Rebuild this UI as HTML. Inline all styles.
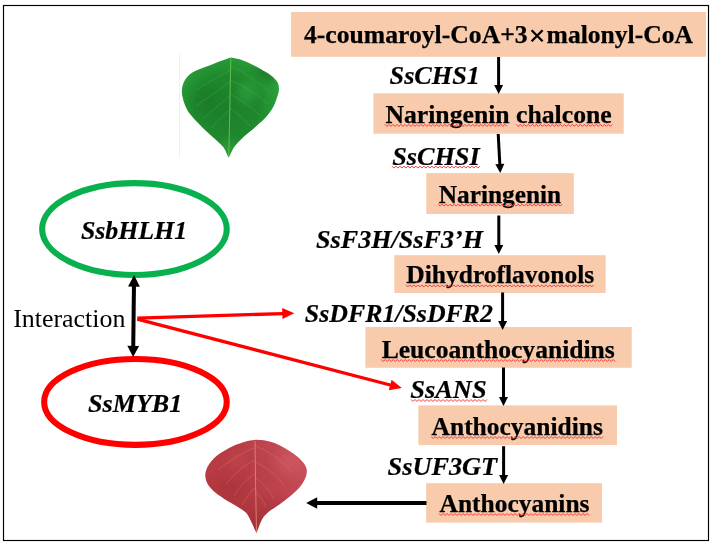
<!DOCTYPE html>
<html><head><meta charset="utf-8"><title>Anthocyanin pathway</title>
<style>
html,body{margin:0;padding:0;background:#fff;}
body{width:714px;height:545px;overflow:hidden;}
svg{display:block;will-change:transform;}
text{font-family:"Liberation Serif",serif;}
.b{font-weight:bold;font-size:24.8px;fill:#000;stroke:#000;stroke-width:0.25px;}
.i{font-weight:bold;font-style:italic;font-size:24.8px;fill:#000;stroke:#000;stroke-width:0.2px;}
</style></head><body>
<svg width="714" height="545" viewBox="0 0 714 545">
<defs>
<radialGradient id="gl" gradientUnits="userSpaceOnUse" cx="226" cy="108" r="58">
<stop offset="0" stop-color="#1d7f2b"/><stop offset="0.55" stop-color="#1f882e"/><stop offset="0.85" stop-color="#279a36"/><stop offset="1" stop-color="#2da53b"/>
</radialGradient>
<filter id="blur4" x="-50%" y="-50%" width="200%" height="200%"><feGaussianBlur stdDeviation="4"/></filter>
<filter id="blur6" x="-50%" y="-50%" width="200%" height="200%"><feGaussianBlur stdDeviation="6"/></filter>
<linearGradient id="rl" x1="0" y1="0.6" x2="1" y2="0.2">
<stop offset="0" stop-color="#b53a40"/><stop offset="0.5" stop-color="#b83e47"/><stop offset="1" stop-color="#c8505a"/>
</linearGradient>
<linearGradient id="rl2" x1="0" y1="0" x2="0" y2="1">
<stop offset="0.55" stop-color="#98262c" stop-opacity="0"/><stop offset="1" stop-color="#98262c" stop-opacity="0.6"/>
</linearGradient>
</defs>
<rect x="0" y="0" width="714" height="545" fill="#ffffff"/>
<rect x="3.5" y="5.5" width="705" height="535" fill="none" stroke="#000" stroke-width="1.15"/>

<rect x="291.1" y="12.0" width="414.9" height="44.8" fill="#f8cbad"/>
<rect x="373.4" y="93.3" width="250.3" height="40.4" fill="#f8cbad"/>
<rect x="426.3" y="173.1" width="147.5" height="40.9" fill="#f8cbad"/>
<rect x="394.3" y="255.2" width="211.3" height="37.8" fill="#f8cbad"/>
<rect x="365.4" y="327" width="266.3" height="40.8" fill="#f8cbad"/>
<rect x="418.4" y="405.4" width="198.6" height="39.7" fill="#f8cbad"/>
<rect x="426.1" y="483.2" width="175.9" height="39.4" fill="#f8cbad"/>
<line x1="498.60" y1="57.00" x2="498.60" y2="86.00" stroke="#000" stroke-width="3"/><polygon points="498.60,94.00 494.10,85.00 503.10,85.00" fill="#000"/>
<line x1="498.20" y1="134.00" x2="499.87" y2="165.11" stroke="#000" stroke-width="3"/><polygon points="500.30,173.10 495.32,164.35 504.31,163.87" fill="#000"/>
<line x1="498.80" y1="215.50" x2="498.80" y2="246.10" stroke="#000" stroke-width="3"/><polygon points="498.80,254.10 494.30,245.10 503.30,245.10" fill="#000"/>
<line x1="502.60" y1="292.50" x2="502.60" y2="322.00" stroke="#000" stroke-width="3"/><polygon points="502.60,330.00 498.10,321.00 507.10,321.00" fill="#000"/>
<line x1="503.50" y1="367.50" x2="503.50" y2="397.90" stroke="#000" stroke-width="3"/><polygon points="503.50,405.90 499.00,396.90 508.00,396.90" fill="#000"/>
<line x1="503.60" y1="446.20" x2="503.60" y2="475.90" stroke="#000" stroke-width="3"/><polygon points="503.60,483.90 499.10,474.90 508.10,474.90" fill="#000"/>
<line x1="426.50" y1="503.00" x2="316.20" y2="503.00" stroke="#000" stroke-width="4"/><polygon points="306.20,503.00 317.20,497.20 317.20,508.80" fill="#000"/>
<line x1="137.30" y1="318.20" x2="283.31" y2="313.55" stroke="#ff0000" stroke-width="3.3"/><polygon points="294.30,313.20 282.48,319.08 282.13,308.08" fill="#ff0000"/>
<line x1="137.30" y1="319.20" x2="391.15" y2="385.23" stroke="#ff0000" stroke-width="3.3"/><polygon points="401.80,388.00 388.80,390.30 391.57,379.66" fill="#ff0000"/>
<ellipse cx="134.45" cy="229.05" rx="92.3" ry="45.95" fill="#fff" stroke="#08b04e" stroke-width="6.1"/>
<ellipse cx="135.45" cy="401.9" rx="91.3" ry="42.95" fill="#fff" stroke="#ff0000" stroke-width="6.1"/>
<line x1="133.60" y1="316.00" x2="133.97" y2="285.60" stroke="#000" stroke-width="4"/><polygon points="134.10,275.10 139.86,286.67 128.06,286.53" fill="#000"/>
<line x1="133.60" y1="316.00" x2="133.22" y2="346.90" stroke="#000" stroke-width="4"/><polygon points="133.10,357.10 127.34,345.83 139.14,345.97" fill="#000"/>
<g>
<text class="b" x="304" y="42.9" textLength="223.6" lengthAdjust="spacingAndGlyphs">4-coumaroyl-CoA+3</text>
<text class="b" x="546.6" y="42.9" textLength="146.4" lengthAdjust="spacingAndGlyphs">malonyl-CoA</text>
<text class="b" x="385.4" y="122.8" textLength="226.3" lengthAdjust="spacingAndGlyphs">Naringenin chalcone</text>
<polyline points="384.9,124.4 386.9,126.4 388.9,124.4 390.9,126.4 392.9,124.4 394.9,126.4 396.9,124.4 398.9,126.4 400.9,124.4 402.9,126.4 404.9,124.4 406.9,126.4 408.9,124.4 410.9,126.4 412.9,124.4 414.9,126.4 416.9,124.4 418.9,126.4 420.9,124.4 422.9,126.4 424.9,124.4 426.9,126.4 428.9,124.4 430.9,126.4 432.9,124.4 434.9,126.4 436.9,124.4 438.9,126.4 440.9,124.4 442.9,126.4 444.9,124.4 446.9,126.4 448.9,124.4 450.9,126.4 452.9,124.4 454.9,126.4 456.9,124.4 458.9,126.4 460.9,124.4 462.9,126.4 464.9,124.4 466.9,126.4 468.9,124.4 470.9,126.4 472.9,124.4 474.9,126.4 476.9,124.4 478.9,126.4 480.9,124.4 482.9,126.4 484.9,124.4 486.9,126.4 488.9,124.4 490.9,126.4 492.9,124.4 494.9,126.4 496.9,124.4 498.9,126.4 500.9,124.4 502.9,126.4 504.9,124.4 506.9,126.4" fill="none" stroke="#f53a3a" stroke-width="1.0" stroke-linejoin="round"/>
<polyline points="516.3,124.4 518.3,126.4 520.3,124.4 522.3,126.4 524.3,124.4 526.3,126.4 528.3,124.4 530.3,126.4 532.3,124.4 534.3,126.4 536.3,124.4 538.3,126.4 540.3,124.4 542.3,126.4 544.3,124.4 546.3,126.4 548.3,124.4 550.3,126.4 552.3,124.4 554.3,126.4 556.3,124.4 558.3,126.4 560.3,124.4 562.3,126.4 564.3,124.4 566.3,126.4 568.3,124.4 570.3,126.4 572.3,124.4 574.3,126.4 576.3,124.4 578.3,126.4 580.3,124.4 582.3,126.4 584.3,124.4 586.3,126.4 588.3,124.4 590.3,126.4 592.3,124.4 594.3,126.4 596.3,124.4 598.3,126.4 600.3,124.4 602.3,126.4 604.3,124.4 606.3,126.4 608.3,124.4 610.3,126.4 612.3,124.4" fill="none" stroke="#f53a3a" stroke-width="1.0" stroke-linejoin="round"/>
<text class="b" x="438.7" y="202.5" textLength="122.5" lengthAdjust="spacingAndGlyphs">Naringenin</text>
<polyline points="438.2,204.1 440.2,206.1 442.2,204.1 444.2,206.1 446.2,204.1 448.2,206.1 450.2,204.1 452.2,206.1 454.2,204.1 456.2,206.1 458.2,204.1 460.2,206.1 462.2,204.1 464.2,206.1 466.2,204.1 468.2,206.1 470.2,204.1 472.2,206.1 474.2,204.1 476.2,206.1 478.2,204.1 480.2,206.1 482.2,204.1 484.2,206.1 486.2,204.1 488.2,206.1 490.2,204.1 492.2,206.1 494.2,204.1 496.2,206.1 498.2,204.1 500.2,206.1 502.2,204.1 504.2,206.1 506.2,204.1 508.2,206.1 510.2,204.1 512.2,206.1 514.2,204.1 516.2,206.1 518.2,204.1 520.2,206.1 522.2,204.1 524.2,206.1 526.2,204.1 528.2,206.1 530.2,204.1 532.2,206.1 534.2,204.1 536.2,206.1 538.2,204.1 540.2,206.1 542.2,204.1 544.2,206.1 546.2,204.1 548.2,206.1 550.2,204.1 552.2,206.1 554.2,204.1 556.2,206.1 558.2,204.1 560.2,206.1 562.2,204.1" fill="none" stroke="#f53a3a" stroke-width="1.0" stroke-linejoin="round"/>
<text class="b" x="406.3" y="283.3" textLength="187.9" lengthAdjust="spacingAndGlyphs">Dihydroflavonols</text>
<polyline points="405.8,284.9 407.8,286.9 409.8,284.9 411.8,286.9 413.8,284.9 415.8,286.9 417.8,284.9 419.8,286.9 421.8,284.9 423.8,286.9 425.8,284.9 427.8,286.9 429.8,284.9 431.8,286.9 433.8,284.9 435.8,286.9 437.8,284.9 439.8,286.9 441.8,284.9 443.8,286.9 445.8,284.9 447.8,286.9 449.8,284.9 451.8,286.9 453.8,284.9 455.8,286.9 457.8,284.9 459.8,286.9 461.8,284.9 463.8,286.9 465.8,284.9 467.8,286.9 469.8,284.9 471.8,286.9 473.8,284.9 475.8,286.9 477.8,284.9 479.8,286.9 481.8,284.9 483.8,286.9 485.8,284.9 487.8,286.9 489.8,284.9 491.8,286.9 493.8,284.9 495.8,286.9 497.8,284.9 499.8,286.9 501.8,284.9 503.8,286.9 505.8,284.9 507.8,286.9 509.8,284.9 511.8,286.9 513.8,284.9 515.8,286.9 517.8,284.9 519.8,286.9 521.8,284.9 523.8,286.9 525.8,284.9 527.8,286.9 529.8,284.9 531.8,286.9 533.8,284.9 535.8,286.9 537.8,284.9 539.8,286.9 541.8,284.9 543.8,286.9 545.8,284.9 547.8,286.9 549.8,284.9 551.8,286.9 553.8,284.9 555.8,286.9 557.8,284.9 559.8,286.9 561.8,284.9 563.8,286.9 565.8,284.9 567.8,286.9 569.8,284.9 571.8,286.9 573.8,284.9 575.8,286.9 577.8,284.9 579.8,286.9 581.8,284.9 583.8,286.9 585.8,284.9 587.8,286.9 589.8,284.9 591.8,286.9 593.8,284.9" fill="none" stroke="#f53a3a" stroke-width="1.0" stroke-linejoin="round"/>
<text class="b" x="381.7" y="357.9" textLength="233.1" lengthAdjust="spacingAndGlyphs">Leucoanthocyanidins</text>
<polyline points="381.2,359.5 383.2,361.5 385.2,359.5 387.2,361.5 389.2,359.5 391.2,361.5 393.2,359.5 395.2,361.5 397.2,359.5 399.2,361.5 401.2,359.5 403.2,361.5 405.2,359.5 407.2,361.5 409.2,359.5 411.2,361.5 413.2,359.5 415.2,361.5 417.2,359.5 419.2,361.5 421.2,359.5 423.2,361.5 425.2,359.5 427.2,361.5 429.2,359.5 431.2,361.5 433.2,359.5 435.2,361.5 437.2,359.5 439.2,361.5 441.2,359.5 443.2,361.5 445.2,359.5 447.2,361.5 449.2,359.5 451.2,361.5 453.2,359.5 455.2,361.5 457.2,359.5 459.2,361.5 461.2,359.5 463.2,361.5 465.2,359.5 467.2,361.5 469.2,359.5 471.2,361.5 473.2,359.5 475.2,361.5 477.2,359.5 479.2,361.5 481.2,359.5 483.2,361.5 485.2,359.5 487.2,361.5 489.2,359.5 491.2,361.5 493.2,359.5 495.2,361.5 497.2,359.5 499.2,361.5 501.2,359.5 503.2,361.5 505.2,359.5 507.2,361.5 509.2,359.5 511.2,361.5 513.2,359.5 515.2,361.5 517.2,359.5 519.2,361.5 521.2,359.5 523.2,361.5 525.2,359.5 527.2,361.5 529.2,359.5 531.2,361.5 533.2,359.5 535.2,361.5 537.2,359.5 539.2,361.5 541.2,359.5 543.2,361.5 545.2,359.5 547.2,361.5 549.2,359.5 551.2,361.5 553.2,359.5 555.2,361.5 557.2,359.5 559.2,361.5 561.2,359.5 563.2,361.5 565.2,359.5 567.2,361.5 569.2,359.5 571.2,361.5 573.2,359.5 575.2,361.5 577.2,359.5 579.2,361.5 581.2,359.5 583.2,361.5 585.2,359.5 587.2,361.5 589.2,359.5 591.2,361.5 593.2,359.5 595.2,361.5 597.2,359.5 599.2,361.5 601.2,359.5 603.2,361.5 605.2,359.5 607.2,361.5 609.2,359.5 611.2,361.5 613.2,359.5 615.2,361.5" fill="none" stroke="#f53a3a" stroke-width="1.0" stroke-linejoin="round"/>
<text class="b" x="431.6" y="434.9" textLength="171.2" lengthAdjust="spacingAndGlyphs">Anthocyanidins</text>
<polyline points="431.1,436.5 433.1,438.5 435.1,436.5 437.1,438.5 439.1,436.5 441.1,438.5 443.1,436.5 445.1,438.5 447.1,436.5 449.1,438.5 451.1,436.5 453.1,438.5 455.1,436.5 457.1,438.5 459.1,436.5 461.1,438.5 463.1,436.5 465.1,438.5 467.1,436.5 469.1,438.5 471.1,436.5 473.1,438.5 475.1,436.5 477.1,438.5 479.1,436.5 481.1,438.5 483.1,436.5 485.1,438.5 487.1,436.5 489.1,438.5 491.1,436.5 493.1,438.5 495.1,436.5 497.1,438.5 499.1,436.5 501.1,438.5 503.1,436.5 505.1,438.5 507.1,436.5 509.1,438.5 511.1,436.5 513.1,438.5 515.1,436.5 517.1,438.5 519.1,436.5 521.1,438.5 523.1,436.5 525.1,438.5 527.1,436.5 529.1,438.5 531.1,436.5 533.1,438.5 535.1,436.5 537.1,438.5 539.1,436.5 541.1,438.5 543.1,436.5 545.1,438.5 547.1,436.5 549.1,438.5 551.1,436.5 553.1,438.5 555.1,436.5 557.1,438.5 559.1,436.5 561.1,438.5 563.1,436.5 565.1,438.5 567.1,436.5 569.1,438.5 571.1,436.5 573.1,438.5 575.1,436.5 577.1,438.5 579.1,436.5 581.1,438.5 583.1,436.5 585.1,438.5 587.1,436.5 589.1,438.5 591.1,436.5 593.1,438.5 595.1,436.5 597.1,438.5 599.1,436.5 601.1,438.5 603.1,436.5" fill="none" stroke="#f53a3a" stroke-width="1.0" stroke-linejoin="round"/>
<text class="b" x="439.6" y="511.9" textLength="149.9" lengthAdjust="spacingAndGlyphs">Anthocyanins</text>
<polyline points="439.1,513.5 441.1,515.5 443.1,513.5 445.1,515.5 447.1,513.5 449.1,515.5 451.1,513.5 453.1,515.5 455.1,513.5 457.1,515.5 459.1,513.5 461.1,515.5 463.1,513.5 465.1,515.5 467.1,513.5 469.1,515.5 471.1,513.5 473.1,515.5 475.1,513.5 477.1,515.5 479.1,513.5 481.1,515.5 483.1,513.5 485.1,515.5 487.1,513.5 489.1,515.5 491.1,513.5 493.1,515.5 495.1,513.5 497.1,515.5 499.1,513.5 501.1,515.5 503.1,513.5 505.1,515.5 507.1,513.5 509.1,515.5 511.1,513.5 513.1,515.5 515.1,513.5 517.1,515.5 519.1,513.5 521.1,515.5 523.1,513.5 525.1,515.5 527.1,513.5 529.1,515.5 531.1,513.5 533.1,515.5 535.1,513.5 537.1,515.5 539.1,513.5 541.1,515.5 543.1,513.5 545.1,515.5 547.1,513.5 549.1,515.5 551.1,513.5 553.1,515.5 555.1,513.5 557.1,515.5 559.1,513.5 561.1,515.5 563.1,513.5 565.1,515.5 567.1,513.5 569.1,515.5 571.1,513.5 573.1,515.5 575.1,513.5 577.1,515.5 579.1,513.5 581.1,515.5 583.1,513.5 585.1,515.5 587.1,513.5 589.1,515.5" fill="none" stroke="#f53a3a" stroke-width="1.0" stroke-linejoin="round"/>
<text class="i" x="389.6" y="83.5" textLength="90.2" lengthAdjust="spacingAndGlyphs">SsCHS1</text>
<text class="i" x="392.2" y="164.5" textLength="87.4" lengthAdjust="spacingAndGlyphs">SsCHSI</text>
<polyline points="391.9,166.1 393.9,168.1 395.9,166.1 397.9,168.1 399.9,166.1 401.9,168.1 403.9,166.1 405.9,168.1 407.9,166.1 409.9,168.1 411.9,166.1 413.9,168.1 415.9,166.1 417.9,168.1 419.9,166.1 421.9,168.1 423.9,166.1 425.9,168.1 427.9,166.1 429.9,168.1 431.9,166.1 433.9,168.1 435.9,166.1 437.9,168.1 439.9,166.1 441.9,168.1 443.9,166.1 445.9,168.1 447.9,166.1 449.9,168.1 451.9,166.1 453.9,168.1 455.9,166.1 457.9,168.1 459.9,166.1 461.9,168.1 463.9,166.1 465.9,168.1 467.9,166.1 469.9,168.1 471.9,166.1 473.9,168.1 475.9,166.1 477.9,168.1 479.9,166.1" fill="none" stroke="#f53a3a" stroke-width="1.0" stroke-linejoin="round"/>
<text class="i" x="316.0" y="247.7" textLength="167.0" lengthAdjust="spacingAndGlyphs">SsF3H/SsF3’H</text>
<text class="i" x="304.8" y="321.5" textLength="188.2" lengthAdjust="spacingAndGlyphs">SsDFR1/SsDFR2</text>
<text class="i" x="410.3" y="397.9" textLength="76.3" lengthAdjust="spacingAndGlyphs">SsANS</text>
<polyline points="411.0,399.5 413.0,401.5 415.0,399.5 417.0,401.5 419.0,399.5 421.0,401.5 423.0,399.5 425.0,401.5 427.0,399.5 429.0,401.5 431.0,399.5 433.0,401.5 435.0,399.5 437.0,401.5 439.0,399.5 441.0,401.5 443.0,399.5 445.0,401.5 447.0,399.5 449.0,401.5 451.0,399.5 453.0,401.5 455.0,399.5 457.0,401.5 459.0,399.5 461.0,401.5 463.0,399.5 465.0,401.5 467.0,399.5 469.0,401.5 471.0,399.5 473.0,401.5 475.0,399.5 477.0,401.5 479.0,399.5 481.0,401.5 483.0,399.5 485.0,401.5 487.0,399.5" fill="none" stroke="#f53a3a" stroke-width="1.0" stroke-linejoin="round"/>
<text class="i" x="387.5" y="474.6" textLength="109.7" lengthAdjust="spacingAndGlyphs">SsUF3GT</text>
<text class="i" x="80.9" y="238.9" textLength="106.3" lengthAdjust="spacingAndGlyphs">SsbHLH1</text>
<text class="i" x="88.1" y="411.7" textLength="94.2" lengthAdjust="spacingAndGlyphs">SsMYB1</text>
<text x="13.2" y="326.7" textLength="112.2" lengthAdjust="spacingAndGlyphs" style="font-size:24.8px;fill:#000">Interaction</text>
</g>
<path d="M531.6,30.2 L542.6,41.2 M542.6,30.2 L531.6,41.2" stroke="#000" stroke-width="2.3" fill="none"/>
<!-- green leaf -->
<line x1="179.5" y1="53" x2="179.5" y2="158.5" stroke="#eef1fb" stroke-width="1"/>
<clipPath id="gclip"><path d="M230.8,57.4 C229.2,58.0 224.3,59.6 221.2,60.8 C218.1,62.0 215.3,63.3 212.0,64.6 C208.7,65.9 204.5,67.1 201.2,68.5 C197.8,69.9 194.3,71.3 191.9,72.8 C189.5,74.3 188.0,76.0 186.6,77.7 C185.2,79.4 184.3,81.0 183.5,83.1 C182.7,85.2 182.0,87.6 181.9,90.1 C181.8,92.5 182.0,95.0 182.7,97.8 C183.3,100.6 184.5,104.1 185.8,106.9 C187.1,109.7 188.4,111.9 190.4,114.6 C192.4,117.3 195.5,120.4 198.1,123.1 C200.7,125.8 203.2,128.4 205.8,130.8 C208.4,133.2 210.9,135.5 213.5,137.8 C216.1,140.1 219.4,142.9 221.2,144.7 C223.0,146.5 223.4,147.1 224.3,148.5 C225.2,149.9 225.9,151.7 226.6,153.2 C227.3,154.7 228.3,156.7 228.6,157.4 C229.0,156.7 230.0,154.8 230.8,153.2 C231.6,151.6 232.6,149.4 233.6,147.8 C234.6,146.2 234.8,145.8 236.6,143.9 C238.4,142.0 241.7,138.5 244.3,136.2 C246.9,133.9 249.4,132.2 252.0,130.0 C254.6,127.8 257.1,125.5 259.7,123.1 C262.3,120.7 265.1,118.2 267.4,115.4 C269.7,112.6 271.9,109.7 273.6,106.2 C275.4,102.8 277.0,97.7 277.9,94.7 C278.8,91.8 279.0,90.4 279.0,88.5 C279.0,86.6 278.7,84.8 277.9,83.1 C277.1,81.4 276.1,80.2 274.4,78.5 C272.6,76.8 270.1,74.9 267.4,73.1 C264.7,71.3 261.3,69.4 258.2,67.7 C255.1,66.0 252.1,64.5 249.0,63.1 C245.9,61.7 242.7,60.2 239.7,59.2 C236.7,58.2 232.3,57.7 230.8,57.4 Z"/></clipPath>
<clipPath id="rclip"><path d="M256.5,532.8 C256.8,532.1 257.4,530.5 258.1,528.7 C258.8,526.9 259.7,524.2 260.6,522.2 C261.6,520.2 262.5,518.4 263.8,516.6 C265.1,514.9 266.7,513.3 268.7,511.7 C270.7,510.1 273.4,508.6 276.0,506.8 C278.6,505.0 281.4,503.1 284.1,501.1 C286.8,499.1 289.7,496.8 292.2,494.6 C294.7,492.4 297.1,490.3 299.0,488.1 C300.9,485.9 302.6,483.5 303.8,481.2 C305.1,478.9 306.1,476.3 306.5,474.2 C306.9,472.1 307.0,470.5 306.5,468.6 C306.0,466.7 305.2,464.9 303.6,462.9 C302.0,460.9 299.5,458.4 297.1,456.4 C294.7,454.4 291.9,452.5 289.0,450.7 C286.1,448.9 282.9,447.1 280.0,445.6 C277.1,444.2 274.4,442.9 271.6,442.0 C268.8,441.1 265.5,440.6 263.4,440.2 C261.3,439.8 260.3,439.9 258.8,439.9 C257.3,439.8 256.0,439.8 254.5,439.9 C253.0,440.0 251.6,440.2 250.0,440.5 C248.4,440.8 247.5,440.9 245.1,441.7 C242.7,442.4 238.7,443.6 235.4,445.0 C232.2,446.4 228.8,448.0 225.6,449.9 C222.3,451.8 218.6,454.1 215.9,456.4 C213.2,458.7 211.0,461.4 209.4,463.7 C207.8,466.0 206.8,468.2 206.1,470.2 C205.4,472.2 205.2,473.9 205.3,475.9 C205.4,477.9 206.0,480.4 206.9,482.4 C207.8,484.4 209.1,486.2 210.6,488.0 C212.1,489.8 213.7,491.2 215.9,493.0 C218.1,494.8 221.3,496.9 224.0,498.7 C226.7,500.5 229.4,502.0 232.1,503.6 C234.8,505.2 237.9,506.9 240.2,508.4 C242.5,509.9 244.4,511.0 245.9,512.5 C247.4,514.0 248.1,515.5 249.2,517.4 C250.3,519.3 251.4,521.9 252.4,523.9 C253.4,525.9 254.2,528.1 254.9,529.6 C255.6,531.1 256.2,532.3 256.5,532.8 Z"/></clipPath>
<path d="M230.8,57.4 C229.2,58.0 224.3,59.6 221.2,60.8 C218.1,62.0 215.3,63.3 212.0,64.6 C208.7,65.9 204.5,67.1 201.2,68.5 C197.8,69.9 194.3,71.3 191.9,72.8 C189.5,74.3 188.0,76.0 186.6,77.7 C185.2,79.4 184.3,81.0 183.5,83.1 C182.7,85.2 182.0,87.6 181.9,90.1 C181.8,92.5 182.0,95.0 182.7,97.8 C183.3,100.6 184.5,104.1 185.8,106.9 C187.1,109.7 188.4,111.9 190.4,114.6 C192.4,117.3 195.5,120.4 198.1,123.1 C200.7,125.8 203.2,128.4 205.8,130.8 C208.4,133.2 210.9,135.5 213.5,137.8 C216.1,140.1 219.4,142.9 221.2,144.7 C223.0,146.5 223.4,147.1 224.3,148.5 C225.2,149.9 225.9,151.7 226.6,153.2 C227.3,154.7 228.3,156.7 228.6,157.4 C229.0,156.7 230.0,154.8 230.8,153.2 C231.6,151.6 232.6,149.4 233.6,147.8 C234.6,146.2 234.8,145.8 236.6,143.9 C238.4,142.0 241.7,138.5 244.3,136.2 C246.9,133.9 249.4,132.2 252.0,130.0 C254.6,127.8 257.1,125.5 259.7,123.1 C262.3,120.7 265.1,118.2 267.4,115.4 C269.7,112.6 271.9,109.7 273.6,106.2 C275.4,102.8 277.0,97.7 277.9,94.7 C278.8,91.8 279.0,90.4 279.0,88.5 C279.0,86.6 278.7,84.8 277.9,83.1 C277.1,81.4 276.1,80.2 274.4,78.5 C272.6,76.8 270.1,74.9 267.4,73.1 C264.7,71.3 261.3,69.4 258.2,67.7 C255.1,66.0 252.1,64.5 249.0,63.1 C245.9,61.7 242.7,60.2 239.7,59.2 C236.7,58.2 232.3,57.7 230.8,57.4 Z" fill="url(#gl)"/>
<g clip-path="url(#gclip)">
<ellipse cx="247" cy="92" rx="9" ry="11" fill="#35a843" opacity="0.55" filter="url(#blur4)"/>
<ellipse cx="266" cy="73" rx="12" ry="7" fill="#135f20" opacity="0.55" filter="url(#blur4)" transform="rotate(30 266 73)"/>
<ellipse cx="206" cy="100" rx="10" ry="14" fill="#176d24" opacity="0.35" filter="url(#blur6)"/>
<ellipse cx="229" cy="148" rx="7" ry="9" fill="#38a53c" opacity="0.5" filter="url(#blur4)"/>
</g>
<g clip-path="url(#gclip)" fill="none" stroke="#58b048" stroke-width="0.7" stroke-opacity="0.55">
<path d="M230.4,70 C224,74 212,80 196,90"/>
<path d="M230.1,82 C223,87 210,96 196,106"/>
<path d="M229.8,96 C224,101 213,110 204,118"/>
<path d="M229.5,110 C225,114 218,121 212,128"/>
<path d="M230.6,66 C240,70 256,80 270,92"/>
<path d="M230.2,80 C240,84 254,92 268,104"/>
<path d="M229.9,94 C238,98 250,106 260,115"/>
<path d="M229.6,108 C236,112 244,119 250,126"/>
</g>
<path d="M230.8,58 C230.3,80 229.8,110 229.4,130 C229.1,142 228.9,150 228.7,156.5" fill="none" stroke="#5cb84a" stroke-width="1.1"/>
<!-- red leaf -->
<path d="M256.5,532.8 C256.8,532.1 257.4,530.5 258.1,528.7 C258.8,526.9 259.7,524.2 260.6,522.2 C261.6,520.2 262.5,518.4 263.8,516.6 C265.1,514.9 266.7,513.3 268.7,511.7 C270.7,510.1 273.4,508.6 276.0,506.8 C278.6,505.0 281.4,503.1 284.1,501.1 C286.8,499.1 289.7,496.8 292.2,494.6 C294.7,492.4 297.1,490.3 299.0,488.1 C300.9,485.9 302.6,483.5 303.8,481.2 C305.1,478.9 306.1,476.3 306.5,474.2 C306.9,472.1 307.0,470.5 306.5,468.6 C306.0,466.7 305.2,464.9 303.6,462.9 C302.0,460.9 299.5,458.4 297.1,456.4 C294.7,454.4 291.9,452.5 289.0,450.7 C286.1,448.9 282.9,447.1 280.0,445.6 C277.1,444.2 274.4,442.9 271.6,442.0 C268.8,441.1 265.5,440.6 263.4,440.2 C261.3,439.8 260.3,439.9 258.8,439.9 C257.3,439.8 256.0,439.8 254.5,439.9 C253.0,440.0 251.6,440.2 250.0,440.5 C248.4,440.8 247.5,440.9 245.1,441.7 C242.7,442.4 238.7,443.6 235.4,445.0 C232.2,446.4 228.8,448.0 225.6,449.9 C222.3,451.8 218.6,454.1 215.9,456.4 C213.2,458.7 211.0,461.4 209.4,463.7 C207.8,466.0 206.8,468.2 206.1,470.2 C205.4,472.2 205.2,473.9 205.3,475.9 C205.4,477.9 206.0,480.4 206.9,482.4 C207.8,484.4 209.1,486.2 210.6,488.0 C212.1,489.8 213.7,491.2 215.9,493.0 C218.1,494.8 221.3,496.9 224.0,498.7 C226.7,500.5 229.4,502.0 232.1,503.6 C234.8,505.2 237.9,506.9 240.2,508.4 C242.5,509.9 244.4,511.0 245.9,512.5 C247.4,514.0 248.1,515.5 249.2,517.4 C250.3,519.3 251.4,521.9 252.4,523.9 C253.4,525.9 254.2,528.1 254.9,529.6 C255.6,531.1 256.2,532.3 256.5,532.8 Z" fill="url(#rl)"/>
<path d="M256.5,532.8 C256.8,532.1 257.4,530.5 258.1,528.7 C258.8,526.9 259.7,524.2 260.6,522.2 C261.6,520.2 262.5,518.4 263.8,516.6 C265.1,514.9 266.7,513.3 268.7,511.7 C270.7,510.1 273.4,508.6 276.0,506.8 C278.6,505.0 281.4,503.1 284.1,501.1 C286.8,499.1 289.7,496.8 292.2,494.6 C294.7,492.4 297.1,490.3 299.0,488.1 C300.9,485.9 302.6,483.5 303.8,481.2 C305.1,478.9 306.1,476.3 306.5,474.2 C306.9,472.1 307.0,470.5 306.5,468.6 C306.0,466.7 305.2,464.9 303.6,462.9 C302.0,460.9 299.5,458.4 297.1,456.4 C294.7,454.4 291.9,452.5 289.0,450.7 C286.1,448.9 282.9,447.1 280.0,445.6 C277.1,444.2 274.4,442.9 271.6,442.0 C268.8,441.1 265.5,440.6 263.4,440.2 C261.3,439.8 260.3,439.9 258.8,439.9 C257.3,439.8 256.0,439.8 254.5,439.9 C253.0,440.0 251.6,440.2 250.0,440.5 C248.4,440.8 247.5,440.9 245.1,441.7 C242.7,442.4 238.7,443.6 235.4,445.0 C232.2,446.4 228.8,448.0 225.6,449.9 C222.3,451.8 218.6,454.1 215.9,456.4 C213.2,458.7 211.0,461.4 209.4,463.7 C207.8,466.0 206.8,468.2 206.1,470.2 C205.4,472.2 205.2,473.9 205.3,475.9 C205.4,477.9 206.0,480.4 206.9,482.4 C207.8,484.4 209.1,486.2 210.6,488.0 C212.1,489.8 213.7,491.2 215.9,493.0 C218.1,494.8 221.3,496.9 224.0,498.7 C226.7,500.5 229.4,502.0 232.1,503.6 C234.8,505.2 237.9,506.9 240.2,508.4 C242.5,509.9 244.4,511.0 245.9,512.5 C247.4,514.0 248.1,515.5 249.2,517.4 C250.3,519.3 251.4,521.9 252.4,523.9 C253.4,525.9 254.2,528.1 254.9,529.6 C255.6,531.1 256.2,532.3 256.5,532.8 Z" fill="url(#rl2)"/>
<g clip-path="url(#rclip)">
<ellipse cx="290" cy="462" rx="14" ry="12" fill="#d4606a" opacity="0.5" filter="url(#blur6)"/>
<ellipse cx="232" cy="488" rx="16" ry="10" fill="#9c2a30" opacity="0.4" filter="url(#blur6)"/>
<ellipse cx="236" cy="460" rx="10" ry="8" fill="#c85058" opacity="0.35" filter="url(#blur4)"/>
</g>
<g clip-path="url(#rclip)" fill="none" stroke="#e07860" stroke-width="0.7" stroke-opacity="0.6">
<path d="M254.6,448 C246,451 232,458 218,470"/>
<path d="M254.8,460 C246,464 236,472 226,484"/>
<path d="M255,474 C248,478 240,486 234,496"/>
<path d="M255.3,488 C250,492 246,498 242,505"/>
<path d="M254.6,446 C264,449 280,458 292,472"/>
<path d="M254.8,462 C264,466 276,474 284,486"/>
<path d="M255.1,478 C262,482 270,490 274,499"/>
<path d="M255.4,492 C260,496 264,501 266,507"/>
</g>
<path d="M255,441 C255.4,470 255.8,500 256.5,531.5" fill="none" stroke="#e08472" stroke-width="0.9"/>

</svg></body></html>
